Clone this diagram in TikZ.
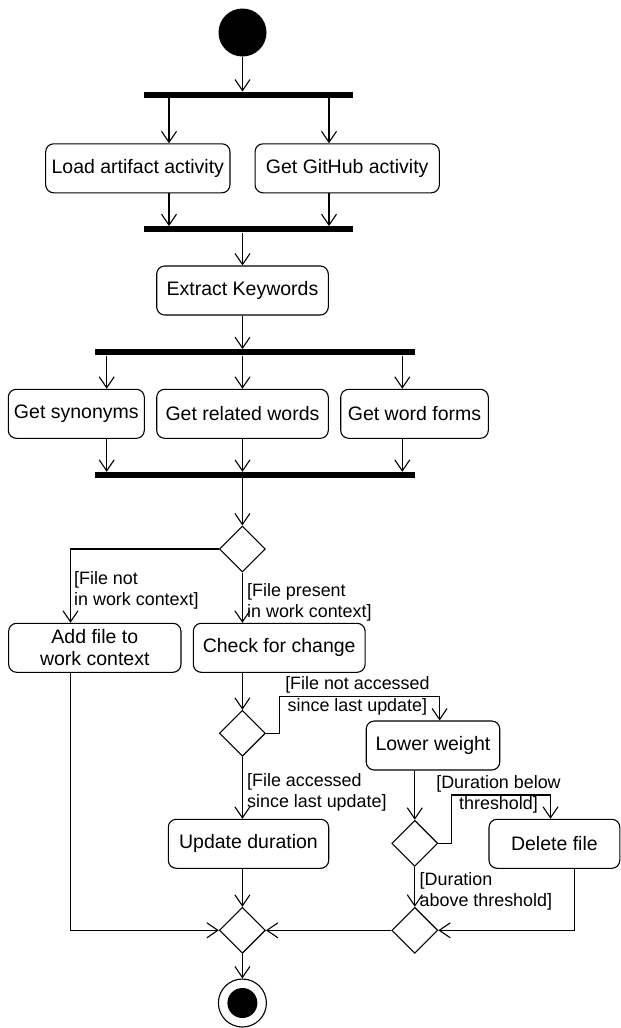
\documentclass[tikz,border=0pt]{standalone}
\usepackage{fontspec}
\setmainfont{Liberation Sans}
\usetikzlibrary{arrows.meta,positioning,shapes.geometric}

\begin{document}
\begin{tikzpicture}[x=1pt, y=-1pt,
    act/.style={draw, rounded corners=8pt, line width=1.1pt, minimum height=49pt, inner sep=0pt, align=center, font=\fontsize{19.5}{22.4}\selectfont},
    bar/.style={fill=black, minimum height=6pt, inner sep=0pt},
    decision/.style={draw, diamond, line width=1.1pt, minimum width=46pt, minimum height=46pt, inner sep=0pt},
    guard/.style={font=\fontsize{17.9}{21.5}\selectfont, inner sep=0pt},
    flow/.style={-{Straight Barb[length=11pt,width=15pt]}, line width=1.1pt}]
    \useasboundingbox (0,0) rectangle (621,1028);

    % start, fork and join of the two loaders
    \node[circle, fill=black, minimum size=48pt, inner sep=0pt] (start) at (242.5,32.5) {};
    \node[bar, minimum width=208.7pt] (fork1) at (248.4,94.7) {};
    \node[act, minimum width=184.3pt] (load) at (137.8,168.3) {Load artifact activity};
    \node[act, minimum width=184.3pt] (github) at (347.2,168.3) {Get GitHub activity};
    \node[bar, minimum width=208.7pt] (join1) at (248.4,229.3) {};
    \node[act, minimum width=171.6pt] (extract) at (242.5,290.5) {Extract Keywords};

    % keyword expansion
    \node[bar, minimum width=320pt] (fork2) at (255,352.3) {};
    \node[act, minimum width=136pt] (synonyms) at (76.3,413.8) {Get synonyms};
    \node[act, minimum width=171.6pt] (related) at (242.5,413.8) {Get related words};
    \node[act, minimum width=147.6pt] (forms) at (414.5,413.8) {Get word forms};
    \node[bar, minimum width=320pt] (join2) at (255,475) {};

    % work context update
    \node[decision] (fileCheck) at (242.4,549) {};
    \node[act, minimum width=172.3pt] (addFile) at (94.8,647.8) {Add file to\\work context};
    \node[act, minimum width=171.8pt] (checkChange) at (279.2,647.8) {Check for change};
    \node[decision] (accessCheck) at (242.4,733.3) {};
    \node[act, minimum width=133.5pt] (lower) at (433,745.5) {Lower weight};
    \node[act, minimum width=160.4pt] (update) at (248.5,843.8) {Update duration};
    \node[decision] (durCheck) at (414.8,843.3) {};
    \node[act, minimum width=130.8pt] (delete) at (554.4,843.8) {Delete file};
    \node[decision] (mergeRight) at (414.8,930.3) {};
    \node[decision] (mergeAll) at (242.4,930.3) {};
    \node[circle, draw, line width=1.1pt, minimum size=48pt, inner sep=0pt] (final) at (242.4,1003) {};
    \node[circle, fill=black, minimum size=30pt, inner sep=0pt] (finalDot) at (final) {};

    % guards
    \node[guard, anchor=west, align=left] (gNotIn) at (74,590.5) {[File not\\in work context]};
    \node[guard, anchor=west, align=left] (gPresent) at (247,602.3) {[File present\\in work context]};
    \node[guard, align=center] (gNotAcc) at (357.4,695.8) {[File not accessed\\since last update]};
    \node[guard, anchor=west, align=left] (gAcc) at (247,792.5) {[File accessed\\since last update]};
    \node[guard, align=center] (gBelow) at (498.5,794.2) {[Duration below\\threshold]};
    \node[guard, anchor=west, align=left] (gAbove) at (419.5,891.3) {[Duration\\above threshold]};

    % columns and bends
    \coordinate (colA) at (169,0);
    \coordinate (colB) at (329,0);
    \coordinate (colS) at (106.7,0);
    \coordinate (colF) at (402.3,0);
    \coordinate (colL) at (70.5,0);
    \coordinate (colW) at (439.6,0);
    \coordinate (colD) at (550.5,0);
    \coordinate (colE) at (574.3,0);
    \coordinate (notAccTurn) at (279.2,696.7);
    \coordinate (belowTurn) at (451.5,795);

    \draw[flow] (start) -- (start |- fork1.north);
    \draw[flow] (fork1.south -| colA) -- (load.north -| colA);
    \draw[flow] (fork1.south -| colB) -- (github.north -| colB);
    \draw[flow] (load.south -| colA) -- (join1.north -| colA);
    \draw[flow] (github.south -| colB) -- (join1.north -| colB);
    \draw[flow] (join1.south -| extract) -- (extract.north);
    \draw[flow] (extract.south) -- (extract |- fork2.north);
    \foreach \col/\task in {colS/synonyms, related/related, colF/forms} {
        \draw[flow] (fork2.south -| \col) -- (\task.north -| \col);
        \draw[flow] (\task.south -| \col) -- (join2.north -| \col);
    }
    \draw[flow] (join2.south -| fileCheck) -- (fileCheck.north);

    \draw[flow] (fileCheck.west) -| (addFile.north -| colL);
    \draw[flow] (fileCheck.south) -- (fileCheck.south |- checkChange.north);
    \draw[flow] (checkChange.south -| accessCheck) -- (accessCheck.north);
    \draw[flow] (accessCheck.east) -| (notAccTurn) -- (notAccTurn -| colW) -- (lower.north -| colW);
    \draw[flow] (accessCheck.south) -- (update.north -| accessCheck);
    \draw[flow] (lower.south -| durCheck) -- (durCheck.north);
    \draw[flow] (durCheck.east) -| (belowTurn) -- (belowTurn -| colD) -- (delete.north -| colD);
    \draw[flow] (durCheck.south) -- (mergeRight.north);
    \draw[flow] (delete.south -| colE) |- (mergeRight.east);
    \draw[flow] (mergeRight.west) -- (mergeAll.east);
    \draw[flow] (update.south -| mergeAll) -- (mergeAll.north);
    \draw[flow] (addFile.south -| colL) |- (mergeAll.west);
    \draw[flow] (mergeAll.south) -- (final.north);
\end{tikzpicture}
\end{document}
